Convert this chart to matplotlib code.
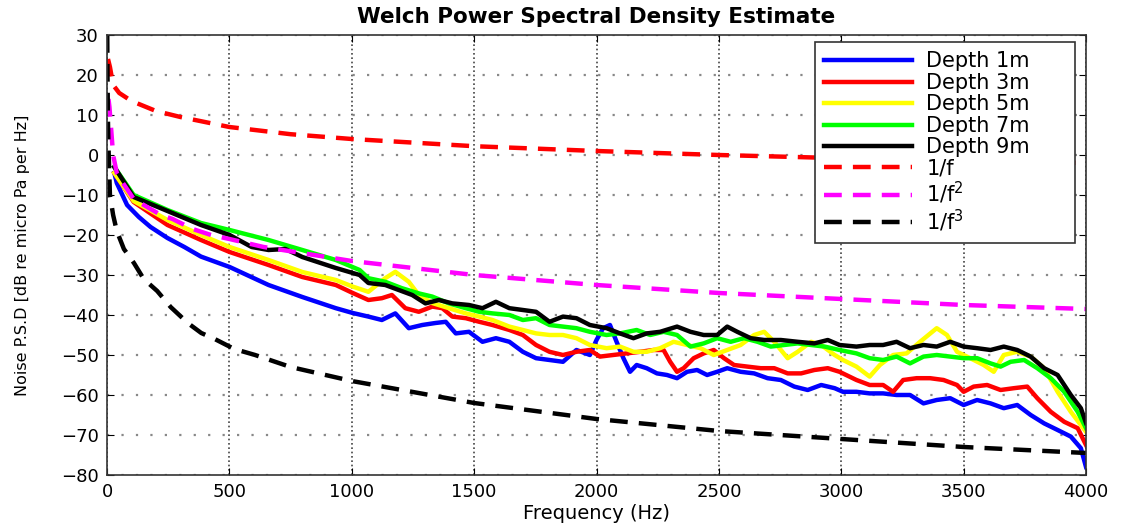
import numpy as np
import matplotlib
matplotlib.use("Agg")
import matplotlib.pyplot as plt

f_d1 = [30, 40, 82, 130, 178, 247, 316, 384, 501, 660, 798, 935, 1004, 1068, 1123, 1178, 1233,
        1288, 1342, 1384, 1425, 1479, 1534, 1589, 1644, 1699, 1753, 1808, 1863, 1918, 1973,
        2000, 2027, 2055, 2082, 2110, 2137, 2164, 2205, 2247, 2288, 2329, 2370, 2411, 2452,
        2493, 2534, 2589, 2644, 2699, 2753, 2808, 2863, 2918, 2973, 3007, 3062, 3116, 3171,
        3226, 3281, 3336, 3390, 3445, 3500, 3555, 3610, 3664, 3719, 3774, 3829, 3884, 3938,
        3979, 4000]
p_d1 = [-4.5, -7, -12.5, -15.5, -18, -20.75, -23, -25.4, -28, -32.5, -35.5, -38.3, -39.5,
        -40.4, -41.25, -39.6, -43.3, -42.5, -42, -41.7, -44.6, -44.2, -46.7, -45.8, -46.7,
        -49.2, -50.8, -51.25, -51.7, -48.75, -50, -46.25, -43.3, -42.5, -46.7, -50.8, -54.2,
        -52.5, -53.3, -54.6, -55, -55.8, -54.2, -53.75, -55, -54.2, -53.3, -54.2, -54.6,
        -55.8, -56.25, -57.9, -58.75, -57.5, -58.3, -59.2, -59.2, -59.6, -59.6, -60, -60,
        -62.1, -61.25, -60.8, -62.5, -61.25, -62.1, -63.3, -62.5, -65, -67.1, -68.75, -70.4,
        -73.3, -78]

f_d3 = [30, 41, 109, 247, 384, 501, 660, 798, 935, 1004, 1068, 1123, 1164, 1219, 1274, 1329,
        1370, 1411, 1466, 1521, 1575, 1644, 1699, 1753, 1808, 1863, 1918, 1973, 2014, 2068,
        2123, 2178, 2233, 2274, 2301, 2329, 2356, 2397, 2438, 2479, 2521, 2562, 2616, 2671,
        2726, 2781, 2836, 2890, 2945, 2993, 3062, 3116, 3171, 3212, 3253, 3308, 3363, 3418,
        3473, 3500, 3541, 3596, 3651, 3705, 3760, 3801, 3856, 3911, 3966, 4000]
p_d3 = [-4.5, -5.5, -11.75, -17.5, -21.25, -24.25, -27.5, -30.5, -32.5, -34.5, -36.25, -35.8,
        -35, -38.3, -39.2, -37.9, -38.3, -40.4, -40.8, -41.7, -42.5, -43.75, -45, -47.5,
        -49.2, -50, -49.2, -48.75, -50.4, -50, -49.6, -49.2, -48.75, -48.75, -51.7, -54.2,
        -53.3, -50.8, -49.6, -48.75, -50.8, -52.5, -52.9, -53.3, -53.3, -54.6, -54.6, -53.75,
        -53.3, -54.2, -56.25, -57.5, -57.5, -59.2, -56.25, -55.8, -55.8, -56.25, -57.5,
        -59.2, -57.9, -57.5, -58.75, -58.3, -57.9, -60.8, -64.2, -66.7, -68.3, -72.5]

f_d5 = [30, 109, 247, 384, 501, 660, 798, 935, 1004, 1068, 1137, 1178, 1233, 1274, 1329, 1397,
        1466, 1521, 1575, 1644, 1699, 1753, 1808, 1863, 1918, 1973, 2041, 2096, 2151, 2205,
        2260, 2315, 2370, 2425, 2479, 2534, 2589, 2644, 2685, 2726, 2781, 2822, 2877, 2918,
        2973, 3007, 3062, 3116, 3158, 3212, 3267, 3322, 3390, 3432, 3473, 3527, 3582, 3623,
        3664, 3719, 3774, 3829, 3884, 3938, 4000]
p_d5 = [-4.5, -11.5, -16.25, -20, -23, -26.25, -29.25, -31.25, -32.9, -34.2, -30.8, -29.2,
        -31.7, -35, -37, -38.3, -39.6, -40.4, -41.25, -42.9, -43.75, -44.6, -45, -45, -45.8,
        -47.5, -48.3, -47.9, -49.2, -49.2, -48.3, -46.7, -47.5, -48.3, -50, -48.75, -47.5,
        -45, -44.2, -46.7, -50.8, -49.2, -46.7, -47.5, -50, -51.25, -52.9, -55.4, -52.5, -50,
        -49.6, -46.7, -43.3, -45, -49.2, -50.8, -52.5, -54.2, -50, -49.2, -50.4, -53.3,
        -59.2, -64.2, -69.2]

f_d7 = [30, 109, 247, 384, 501, 660, 798, 935, 1032, 1068, 1137, 1205, 1274, 1329, 1397, 1466,
        1521, 1575, 1644, 1699, 1753, 1808, 1863, 1918, 1973, 2041, 2096, 2164, 2219, 2274,
        2329, 2384, 2438, 2493, 2548, 2603, 2658, 2712, 2767, 2822, 2877, 2932, 2993, 3062,
        3116, 3171, 3226, 3281, 3336, 3390, 3445, 3500, 3555, 3610, 3651, 3692, 3747, 3801,
        3856, 3911, 3966, 4000]
p_d7 = [-3, -10, -13.75, -17, -18.75, -21.25, -23.75, -26.25, -28.75, -30.8, -31.7, -33.3,
        -34.6, -35.4, -37.1, -38.3, -39.2, -39.6, -40, -41.25, -40.8, -42.5, -42.9, -43.3,
        -44.2, -45, -44.6, -43.75, -45, -44.2, -45, -47.9, -47.1, -45.8, -46.7, -45.8, -46.7,
        -47.9, -47.5, -47.1, -47.5, -47.9, -48.75, -49.6, -50.8, -51.25, -50.4, -52.1, -50.4,
        -50, -50.4, -50.8, -50.8, -52.1, -52.9, -51.7, -51.25, -53.3, -55.8, -59.2, -64.2,
        -68.3]

f_d9 = [30, 109, 247, 384, 501, 591, 660, 729, 798, 935, 1032, 1068, 1137, 1192, 1247, 1301,
        1356, 1411, 1479, 1534, 1589, 1644, 1699, 1753, 1808, 1863, 1918, 1973, 2041, 2096,
        2151, 2205, 2260, 2329, 2384, 2438, 2493, 2534, 2575, 2630, 2685, 2753, 2822, 2890,
        2945, 2993, 3062, 3116, 3171, 3226, 3281, 3336, 3390, 3445, 3500, 3555, 3610, 3664,
        3719, 3774, 3829, 3884, 3938, 3979, 4000]
p_d9 = [-3, -10.5, -14, -17.5, -20, -23, -23.75, -23.5, -25.5, -28.25, -30, -32, -32.5,
        -33.75, -35, -37.1, -36.25, -37.1, -37.5, -38.3, -36.7, -38.3, -38.75, -39.2, -41.7,
        -40.4, -40.8, -42.5, -43.3, -44.6, -45.8, -44.6, -44.2, -42.9, -44.2, -45, -45,
        -42.9, -44.2, -45.8, -46.25, -46.25, -46.7, -47.1, -46.25, -47.5, -47.9, -47.5,
        -47.5, -46.7, -48.3, -47.5, -47.9, -46.7, -47.9, -48.3, -48.75, -47.9, -48.75,
        -50.4, -53.3, -55, -60, -63.3, -67]

# ---- reference slopes ----
f_r1 = [4, 12, 25, 50, 100, 200, 300, 500, 750, 1000, 1500, 2000, 2500, 3000, 3500, 4000]
p_r1 = [24, 22, 17.5, 15.5, 13.5, 11, 9.5, 7, 5.2, 4, 2.2, 1, 0, -0.8, -1.4, -2]

f_r2 = [6, 10, 25, 40, 54, 109, 150, 220, 268, 350, 425, 500, 640, 1000, 1500, 2000, 2500,
        3000, 3500, 4000]
p_r2 = [14, 12, 0, -4.5, -6, -11, -12.5, -15, -16, -18.5, -20, -21, -23, -26.5, -30, -32.5,
        -34.5, -36, -37.5, -38.5]

f_r3 = [1, 2, 4, 7, 12, 25, 40, 69, 110, 150, 205, 260, 330, 385, 440, 520, 605, 750, 1000,
        1500, 2000, 2500, 3000, 3500, 4000]
p_r3 = [30, 20, 8, 0, -10, -15, -19, -23.5, -27, -31, -34, -38, -42, -44.5, -46, -48.5, -50,
        -53, -56.5, -62, -66, -69, -71, -73, -74.5]

plt.rcParams['font.family'] = ['DejaVu Sans']

fig = plt.figure(figsize=(11.24, 5.28), dpi=100)
ax = fig.add_axes([0.0952, 0.1004, 0.871, 0.8333])

lw = 3.2
dash = (0, (4, 2.5))
ax.plot(f_d1, p_d1, color='#0000ff', lw=lw, label='Depth 1m')
ax.plot(f_d3, p_d3, color='#ff0000', lw=lw, label='Depth 3m')
ax.plot(f_d5, p_d5, color='#ffff00', lw=lw, label='Depth 5m')
ax.plot(f_d7, p_d7, color='#00ff00', lw=lw, label='Depth 7m')
ax.plot(f_d9, p_d9, color='#000000', lw=lw, label='Depth 9m')
ax.plot(f_r1, p_r1, color='#ff0000', lw=lw, ls=dash, label='1/f')
ax.plot(f_r2, p_r2, color='#ff00ff', lw=lw, ls=dash, label='1/f$^2$')
ax.plot(f_r3, p_r3, color='#000000', lw=lw, ls=dash, label='1/f$^3$')

ax.set_xlim(0, 4000)
ax.set_ylim(-80, 30)
ax.set_xticks(np.arange(0, 4001, 500))
ax.set_yticks(np.arange(-80, 31, 10))
ax.xaxis.grid(True, ls=(0, (1, 1.6)), color='#444444', lw=1.2)
ax.yaxis.grid(True, ls=(0, (1, 5.5)), color='#888888', lw=1.6)
ax.tick_params(direction='in', top=True, right=True, labelsize=13, length=5, pad=6)
for s in ax.spines.values():
    s.set_linewidth(1.2)
    s.set_color('#333333')

ax.set_title('Welch Power Spectral Density Estimate', fontsize=15.5, fontweight='bold', pad=9)
ax.set_xlabel('Frequency (Hz)', fontsize=14)
ax.xaxis.set_label_coords(0.5, -0.065)
ax.set_ylabel('Noise P.S.D [dB re micro Pa per Hz]', fontsize=11.5)
ax.yaxis.set_label_coords(-0.079, 0.5)

leg = ax.legend(loc='upper left', bbox_to_anchor=(0.723, 0.5, 0.266, 0.484), mode='expand',
                fontsize=15, handlelength=4.2, handletextpad=0.7, labelspacing=0.07,
                borderpad=0.45, borderaxespad=0.0, fancybox=False, framealpha=1,
                edgecolor='#333333')
leg.get_frame().set_linewidth(1.2)

fig.savefig('out.png', dpi=100)
